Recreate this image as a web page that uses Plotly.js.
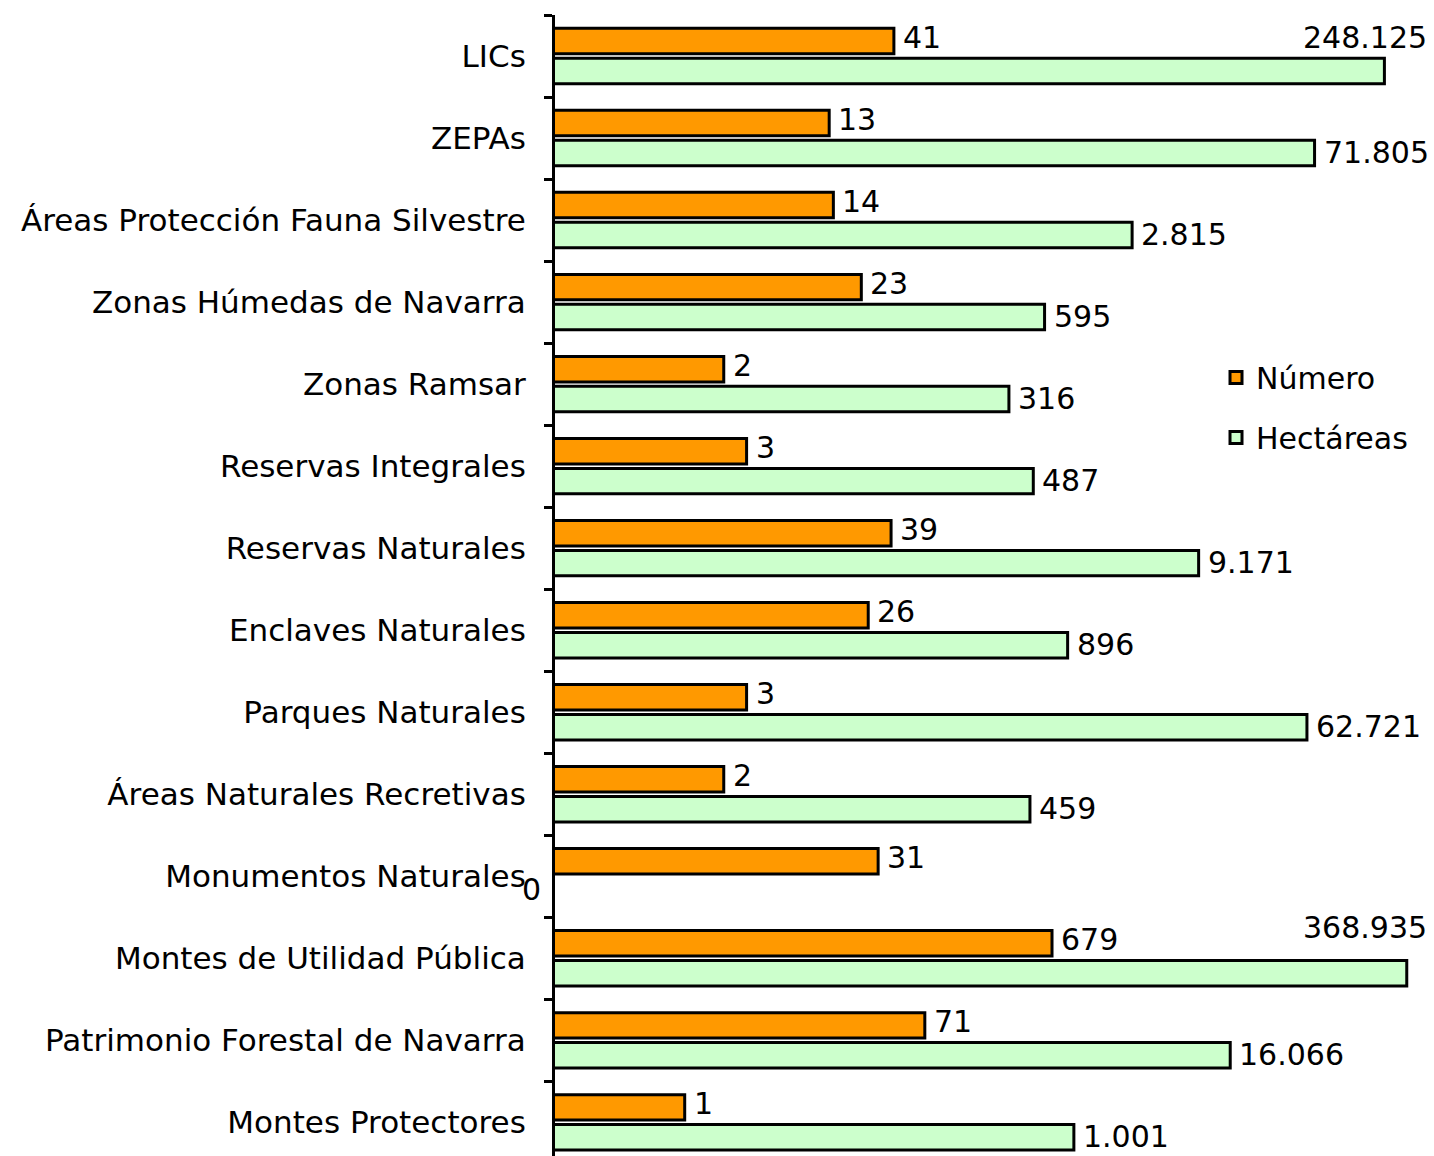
<!DOCTYPE html>
<html>
<head>
<meta charset="utf-8">
<script src="https://cdn.plot.ly/plotly-3.0.1.min.js"></script>
<style>html,body{margin:0;padding:0;background:#fff;}#chart{width:1434px;height:1156px;}</style>
</head>
<body>
<div id="chart"></div>
<script>
const categories = [
  "LICs",
  "ZEPAs",
  "Áreas Protección Fauna Silvestre",
  "Zonas Húmedas de Navarra",
  "Zonas Ramsar",
  "Reservas Integrales",
  "Reservas Naturales",
  "Enclaves Naturales",
  "Parques Naturales",
  "Áreas Naturales Recretivas",
  "Monumentos Naturales",
  "Montes de Utilidad Pública",
  "Patrimonio Forestal de Navarra",
  "Montes Protectores"
];
const numero = [41, 13, 14, 23, 2, 3, 39, 26, 3, 2, 31, 679, 71, 1];
const hectareas = [248125, 71805, 2815, 595, 316, 487, 9171, 896, 62721, 459, 0, 368935, 16066, 1001];
const seriesNames = ["Número", "Hectáreas"];

const FONT = "DejaVu Sans";
const FS = 30;
const XMAX_LOG = 5.777;

function fmt(v) {
  return String(v).replace(/\B(?=(\d{3})+(?!\d))/g, ".");
}

const traces = [
  {
    type: "bar", orientation: "h", name: seriesNames[0], legendgroup: "a",
    y: categories, x: numero,
    marker: {color: "#FF9900", line: {color: "#000", width: 3}},
    hoverinfo: "x+y"
  },
  {
    type: "bar", orientation: "h", name: seriesNames[1], legendgroup: "b",
    y: categories, x: hectareas.map(v => v > 0 ? v : null),
    marker: {color: "#CCFFCC", line: {color: "#000", width: 3}},
    hoverinfo: "x+y"
  }
];

const annotations = [];
numero.forEach((v, i) => {
  annotations.push({
    x: Math.log10(v), y: categories[i], xref: "x", yref: "y",
    text: fmt(v), showarrow: false, xanchor: "left", yanchor: "middle",
    xshift: 7, yshift: 19, font: {family: FONT, size: FS, color: "#000"}
  });
});
hectareas.forEach((v, i) => {
  if (v <= 0) {
    annotations.push({
      x: 0, y: categories[i], xref: "paper", yref: "y",
      text: fmt(v), showarrow: false, xanchor: "center", yanchor: "middle",
      xshift: -24, yshift: -13, font: {family: FONT, size: FS, color: "#000"}
    });
  } else if (Math.log10(v) > XMAX_LOG - 0.6) {
    annotations.push({
      x: 1, y: categories[i], xref: "paper", yref: "y",
      text: fmt(v), showarrow: false, xanchor: "right", yanchor: "middle",
      xshift: -5, yshift: i === 0 ? 19 : 31, font: {family: FONT, size: FS, color: "#000"}
    });
  } else {
    annotations.push({
      x: Math.log10(v), y: categories[i], xref: "x", yref: "y",
      text: fmt(v), showarrow: false, xanchor: "left", yanchor: "middle",
      xshift: 7, yshift: -14, font: {family: FONT, size: FS, color: "#000"}
    });
  }
});

const layout = {
  width: 1434, height: 1156,
  margin: {l: 555, r: 0, t: 15, b: 0, pad: 0},
  paper_bgcolor: "#fff", plot_bgcolor: "#fff",
  font: {family: FONT, size: FS, color: "#000"},
  barmode: "group", bargap: 0.27, bargroupgap: 0.15,
  showlegend: true,
  legend: {
    x: 0.752, y: 0.705, xanchor: "left", yanchor: "top",
    font: {family: FONT, size: FS, color: "#000"},
    bgcolor: "rgba(0,0,0,0)", tracegroupgap: 18, traceorder: "grouped",
    itemwidth: 30
  },
  xaxis: {
    type: "log", range: [-1, XMAX_LOG], visible: false, showgrid: false, zeroline: false, fixedrange: true
  },
  yaxis: {
    type: "category", range: [13.41, -0.5], showgrid: false, zeroline: false,
    showline: true, linecolor: "#000", linewidth: 3,
    ticks: "outside", ticklen: 8, tickwidth: 3, tickcolor: "#000", tickson: "boundaries",
    ticklabelstandoff: 20, automargin: false, fixedrange: true,
    tickfont: {family: FONT, size: 31, color: "#000"}
  },
  annotations: annotations
};

Plotly.newPlot("chart", traces, layout, {displayModeBar: false, staticPlot: true});
</script>
</body>
</html>
